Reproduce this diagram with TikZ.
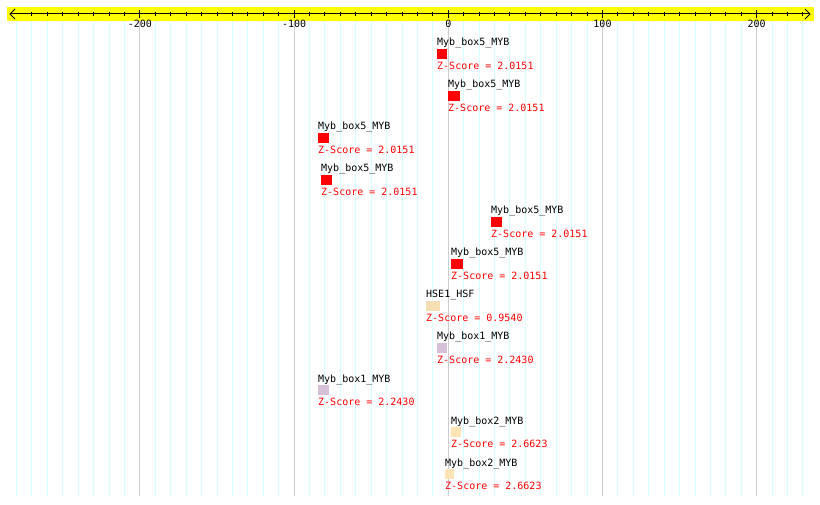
\documentclass[tikz,border=0pt]{standalone}
\usepackage{fontspec}
\setmonofont{DejaVu Sans Mono}
\definecolor{bandyellow}{RGB}{255,255,0}
\definecolor{gridminor}{RGB}{215,255,255}
\definecolor{gridmajor}{RGB}{205,205,205}
\definecolor{featred}{RGB}{255,0,0}
\definecolor{featwheat}{RGB}{245,222,179}
\definecolor{featthistle}{RGB}{216,191,216}
\definecolor{featmoccasin}{RGB}{255,228,181}
\newcommand\feat[7]{%
  \node[fbox, fill=#5, minimum width=#4pt] (b#1) at (#2,#3) {};
  \node[lbl, yshift=3pt] (n#1) at (b#1.north west) {#6};
  \node[zlbl, yshift=-20.5pt] (z#1) at (b#1.north west) {#7};
}
\begin{document}
\begin{tikzpicture}[x=1pt,y=-1pt,
  mono/.style={inner sep=0pt, font=\ttfamily\fontsize{10}{12}\selectfont},
  lbl/.style={mono, anchor=base west, text=black},
  zlbl/.style={mono, anchor=base west, text=featred},
  ticklbl/.style={mono, anchor=base, text=black},
  fbox/.style={draw=none, inner sep=0pt, minimum height=10pt, anchor=north west},
  axisline/.style={line width=1pt, black},
  gline/.style={line width=1pt}]
\useasboundingbox (0,0) rectangle (820,505);
\fill[white] (0,0) rectangle (820,505);
% grid
\foreach \u in {-280,-270,...,230}{
  \pgfmathsetmacro\xx{448.3+1.542*\u}
  \draw[gline, gridminor] (\xx,21) -- (\xx,495.5);
}
\foreach \u in {-200,-100,0,100,200}{
  \pgfmathsetmacro\xx{448.3+1.542*\u}
  \draw[gline, gridmajor] (\xx,21) -- (\xx,495.5);
}
% axis band
\fill[bandyellow] (7,7) rectangle (814,21);
\coordinate (al) at (10,14);
\coordinate (ar) at (810,14);
\draw[axisline] (al) -- (ar);
\draw[axisline] (15,9) -- (al) -- (15,19);
\draw[axisline] (805,9) -- (ar) -- (805,19);
\foreach \u in {-270,-260,...,230}{
  \pgfmathsetmacro\xx{448.3+1.542*\u}
  \draw[axisline] (\xx,11.7) -- (\xx,16.3);
}
\foreach \u in {-200,-100,0,100,200}{
  \pgfmathsetmacro\xx{448.3+1.542*\u}
  \draw[axisline] (\xx,10) -- (\xx,18.5);
  \node[ticklbl] (t\u) at (\xx,28) {\u};
}
% features
\feat{1}{437}{49}{10}{featred}{Myb\_box5\_MYB}{Z-Score = 2.0151}
\feat{2}{448}{91}{12}{featred}{Myb\_box5\_MYB}{Z-Score = 2.0151}
\feat{3}{318}{133}{11}{featred}{Myb\_box5\_MYB}{Z-Score = 2.0151}
\feat{4}{321}{175}{11}{featred}{Myb\_box5\_MYB}{Z-Score = 2.0151}
\feat{5}{491}{217}{11}{featred}{Myb\_box5\_MYB}{Z-Score = 2.0151}
\feat{6}{451}{259}{12}{featred}{Myb\_box5\_MYB}{Z-Score = 2.0151}
\feat{7}{426}{301}{14}{featwheat}{HSE1\_HSF}{Z-Score = 0.9540}
\feat{8}{437}{343}{10}{featthistle}{Myb\_box1\_MYB}{Z-Score = 2.2430}
\feat{9}{318}{385}{11}{featthistle}{Myb\_box1\_MYB}{Z-Score = 2.2430}
\feat{10}{451}{427}{10}{featmoccasin}{Myb\_box2\_MYB}{Z-Score = 2.6623}
\feat{11}{445}{469}{9}{featmoccasin}{Myb\_box2\_MYB}{Z-Score = 2.6623}
\end{tikzpicture}
\end{document}
